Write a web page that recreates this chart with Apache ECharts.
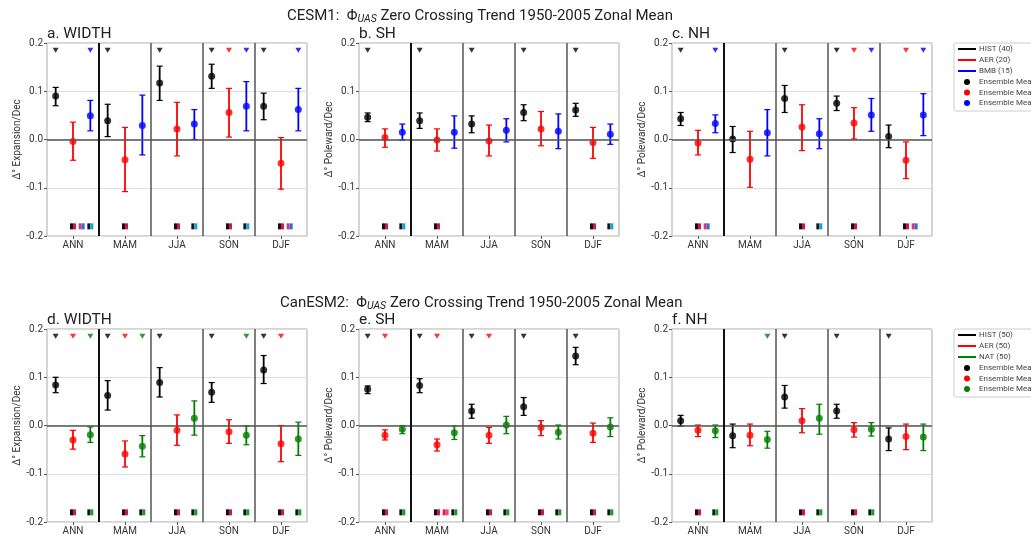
<!DOCTYPE html>
<html><head><meta charset="utf-8">
<script src="https://cdn.jsdelivr.net/npm/echarts@6/dist/echarts.min.js"></script>
<style>html,body{margin:0;padding:0;background:#fff}#c{width:1031px;height:537px}</style>
</head><body><div id="c"></div>
<script>
const seasons = ['ANN','MAM','JJA','SON','DJF'];
const yTicks = [-0.2, -0.1, 0.0, 0.1, 0.2];
const legendTop = ['HIST (40)','AER (20)','BMB (15)'];
const legendBottom = ['HIST (50)','AER (50)','NAT (50)'];
const meanLabel = 'Ensemble Mean';

// [mean, low, high] per season
const aHist = [[0.090,0.070,0.108],[0.039,0.006,0.073],[0.117,0.081,0.152],[0.131,0.106,0.156],[0.069,0.041,0.096]];
const aAer  = [[-0.004,-0.043,0.036],[-0.042,-0.108,0.025],[0.022,-0.034,0.077],[0.056,0.005,0.106],[-0.049,-0.103,0.004]];
const aBmb  = [[0.049,0.018,0.081],[0.029,-0.032,0.092],[0.032,0.000,0.062],[0.069,0.018,0.120],[0.062,0.018,0.106]];

const bHist = [[0.046,0.037,0.055],[0.039,0.023,0.055],[0.032,0.014,0.049],[0.056,0.039,0.072],[0.061,0.048,0.075]];
const bAer  = [[0.004,-0.016,0.022],[-0.001,-0.024,0.022],[-0.003,-0.034,0.030],[0.022,-0.013,0.058],[-0.006,-0.039,0.025]];
const bBmb  = [[0.015,-0.001,0.032],[0.015,-0.018,0.049],[0.019,-0.005,0.043],[0.017,-0.019,0.053],[0.011,-0.010,0.032]];

const cHist = [[0.043,0.029,0.056],[0.001,-0.027,0.027],[0.085,0.056,0.112],[0.075,0.060,0.090],[0.006,-0.017,0.030]];
const cAer  = [[-0.007,-0.032,0.019],[-0.041,-0.099,0.017],[0.026,-0.023,0.072],[0.034,0.001,0.066],[-0.043,-0.081,-0.005]];
const cBmb  = [[0.033,0.014,0.051],[0.014,-0.034,0.062],[0.012,-0.019,0.043],[0.051,0.017,0.085],[0.051,0.008,0.095]];

const dHist = [[0.084,0.068,0.100],[0.062,0.032,0.093],[0.089,0.059,0.120],[0.069,0.048,0.089],[0.115,0.087,0.145]];
const dAer  = [[-0.030,-0.049,-0.010],[-0.059,-0.086,-0.032],[-0.010,-0.041,0.022],[-0.013,-0.037,0.012],[-0.038,-0.075,0.000]];
const dNat  = [[-0.019,-0.035,-0.003],[-0.043,-0.065,-0.021],[0.015,-0.020,0.051],[-0.020,-0.040,-0.001],[-0.028,-0.062,0.007]];

const eHist = [[0.075,0.066,0.082],[0.083,0.068,0.097],[0.030,0.015,0.044],[0.039,0.021,0.058],[0.144,0.126,0.162]];
const eAer  = [[-0.020,-0.030,-0.009],[-0.040,-0.053,-0.028],[-0.020,-0.037,-0.004],[-0.004,-0.021,0.010],[-0.016,-0.035,0.005]];
const eNat  = [[-0.008,-0.017,0.000],[-0.015,-0.029,-0.001],[0.001,-0.017,0.019],[-0.014,-0.028,0.001],[-0.003,-0.023,0.016]];

const fHist = [[0.010,-0.001,0.021],[-0.021,-0.046,0.003],[0.059,0.036,0.083],[0.030,0.015,0.044],[-0.028,-0.052,-0.005]];
const fAer  = [[-0.010,-0.023,0.001],[-0.020,-0.042,0.003],[0.010,-0.015,0.035],[-0.009,-0.024,0.006],[-0.023,-0.050,0.003]];
const fNat  = [[-0.011,-0.025,0.001],[-0.029,-0.047,-0.012],[0.015,-0.018,0.044],[-0.008,-0.022,0.006],[-0.024,-0.052,0.003]];

// significance triangles: [season, member]  (0 HIST, 1 AER, 2 BMB/NAT)
const aTri = [[0,0],[0,2],[1,0],[2,0],[3,0],[3,1],[3,2],[4,0],[4,2]];
const bTri = [[0,0],[1,0],[2,0],[3,0],[4,0]];
const cTri = [[0,0],[0,2],[2,0],[3,0],[3,1],[3,2],[4,1],[4,2]];
const dTri = [[0,0],[0,1],[0,2],[1,0],[1,1],[1,2],[2,0],[3,0],[3,2],[4,0],[4,1]];
const eTri = [[0,0],[0,1],[1,0],[1,1],[2,0],[2,1],[3,0],[4,0]];
const fTri = [[1,2],[2,0],[3,0],[4,0]];

// difference squares: [season, pair]  (0 HIST-AER, 1 AER-third, 2 HIST-third)
const aSq = [[0,0],[0,1],[0,2],[1,0],[2,0],[2,2],[3,0],[3,2],[4,0],[4,1]];
const bSq = [[0,0],[0,2],[1,0],[4,0],[4,2]];
const cSq = [[0,0],[0,1],[2,0],[2,2],[3,0],[4,0],[4,1]];
const dSq = [[0,0],[0,2],[1,0],[1,2],[2,0],[2,2],[3,0],[3,2],[4,0],[4,2]];
const eSq = [[0,0],[0,2],[1,0],[1,1],[1,2],[2,0],[2,2],[3,0],[3,2],[4,0],[4,2]];
const fSq = [[0,0],[0,2],[2,0],[2,2],[3,0],[3,2]];

const FONT = 'Roboto';
const BLUE = '#0000ff', GREEN = '#008000', RED = '#ff0000', BLACK = '#000000';

const panels = [
  {title:'a. WIDTH', yName:'Δ° Expansion/Dec', d:[aHist,aAer,aBmb], tri:aTri, sq:aSq, third:BLUE, row:0, col:0},
  {title:'b. SH', yName:'Δ° Poleward/Dec', d:[bHist,bAer,bBmb], tri:bTri, sq:bSq, third:BLUE, row:0, col:1},
  {title:'c. NH', yName:'Δ° Poleward/Dec', d:[cHist,cAer,cBmb], tri:cTri, sq:cSq, third:BLUE, row:0, col:2},
  {title:'d. WIDTH', yName:'Δ° Expansion/Dec', d:[dHist,dAer,dNat], tri:dTri, sq:dSq, third:GREEN, row:1, col:0},
  {title:'e. SH', yName:'Δ° Poleward/Dec', d:[eHist,eAer,eNat], tri:eTri, sq:eSq, third:GREEN, row:1, col:1},
  {title:'f. NH', yName:'Δ° Poleward/Dec', d:[fHist,fAer,fNat], tri:fTri, sq:fSq, third:GREEN, row:1, col:2}
];

const lefts = [47, 359, 672], tops = [43, 329], W = 260, H = 193;
const grids = [], xAxes = [], yAxes = [], series = [], titles = [];

const mainRich = {
  a: {fontFamily: FONT, fontSize: 15, fontWeight: 'normal', color: '#222'},
  s: {fontFamily: FONT, fontSize: 10.5, fontStyle: 'italic', fontWeight: 'normal', color: '#222', padding: [7, 0, 0, 0]}
};
titles.push({text: '{a|CESM1:  Φ}{s|UAS}{a| Zero Crossing Trend 1950-2005 Zonal Mean}', left: 287, top: 7, padding: 0,
  textStyle: {fontWeight: 'normal', rich: mainRich}});
titles.push({text: '{a|CanESM2:  Φ}{s|UAS}{a| Zero Crossing Trend 1950-2005 Zonal Mean}', left: 280, top: 294, padding: 0,
  textStyle: {fontWeight: 'normal', rich: mainRich}});

panels.forEach((p, k) => {
  const L = lefts[p.col], T = tops[p.row];
  const colors = [BLACK, RED, p.third];
  grids.push({left: L, top: T, width: W, height: H, show: true, borderColor: '#aaa', borderWidth: 1, backgroundColor: 'transparent'});
  titles.push({text: p.title, left: L, top: T - 17, padding: 0, textStyle: {fontFamily: FONT, fontSize: 15.5, fontWeight: 'normal', color: '#222'}});
  xAxes.push({type: 'value', gridIndex: k, min: 0, max: 15, show: false});
  xAxes.push({type: 'category', gridIndex: k, data: seasons, position: 'bottom', boundaryGap: true,
    axisLine: {show: false}, axisTick: {show: true, alignWithLabel: true, length: 3, lineStyle: {color: '#555'}},
    axisLabel: {fontFamily: FONT, fontSize: 10, color: '#333', margin: 4}, splitLine: {show: false}});
  yAxes.push({type: 'value', gridIndex: k, min: yTicks[0], max: yTicks[yTicks.length-1], interval: 0.1,
    name: p.yName, nameLocation: 'middle', nameGap: 22, nameTextStyle: {fontFamily: FONT, fontSize: 10, color: '#333'},
    axisLine: {show: false}, axisTick: {show: true, length: 3, lineStyle: {color: '#555'}},
    axisLabel: {fontFamily: FONT, fontSize: 10, color: '#333', margin: 4, formatter: v => v.toFixed(1)},
    splitLine: {show: true, lineStyle: {color: '#ddd', width: 1}}});
  const xi = k * 2, yi = k;
  series.push({type: 'line', xAxisIndex: xi, yAxisIndex: yi, data: [], silent: true,
    markLine: {silent: true, symbol: ['none','none'], label: {show: false}, animation: false,
      data: [
        {yAxis: 0, lineStyle: {color: '#555', width: 1.5, type: 'solid'}},
        {xAxis: 3, lineStyle: {color: '#111', width: 2, type: 'solid'}},
        {xAxis: 6, lineStyle: {color: '#555', width: 1.5, type: 'solid'}},
        {xAxis: 9, lineStyle: {color: '#555', width: 1.5, type: 'solid'}},
        {xAxis: 12, lineStyle: {color: '#555', width: 1.5, type: 'solid'}}
      ]}});
  p.d.forEach((arr, m) => {
    const col = colors[m];
    const data = arr.map((v, i) => [i * 3 + m + 0.5, v[0], v[1], v[2]]);
    series.push({type: 'custom', xAxisIndex: xi, yAxisIndex: yi, data: data, z: 3, silent: true,
      encode: {x: 0, y: [1, 2, 3]},
      renderItem: (params, api) => {
        const x = api.value(0);
        const p1 = api.coord([x, api.value(2)]), p2 = api.coord([x, api.value(3)]);
        return {type: 'group', children: [
          {type: 'line', shape: {x1: p1[0], y1: p1[1], x2: p2[0], y2: p2[1]}, style: {stroke: col, lineWidth: 1.8}},
          {type: 'line', shape: {x1: p1[0]-3, y1: p1[1], x2: p1[0]+3, y2: p1[1]}, style: {stroke: col, lineWidth: 1.2}},
          {type: 'line', shape: {x1: p2[0]-3, y1: p2[1], x2: p2[0]+3, y2: p2[1]}, style: {stroke: col, lineWidth: 1.2}}
        ]};
      }});
    series.push({type: 'scatter', xAxisIndex: xi, yAxisIndex: yi, symbol: 'circle', symbolSize: 7, z: 4, silent: true,
      itemStyle: {color: col}, data: data.map(d => [d[0], d[1]])});
  });
  series.push({type: 'scatter', xAxisIndex: xi, yAxisIndex: yi, symbol: 'triangle', symbolRotate: 180, symbolSize: [6, 5], z: 4, silent: true,
    data: p.tri.map(t => ({value: [t[0] * 3 + t[1] + 0.5, 0.185], itemStyle: {color: colors[t[1]]}}))});
  const pairPos = [1.5, 2.0, 2.5];
  const pairCols = p.third === BLUE
    ? [['#1a0a10', '#d0154f'], ['#e0307f', '#2a70d8'], ['#101820', '#1f9fd8']]
    : [['#1a0a10', '#d0154f'], ['#e0203a', '#e8507a'], ['#0c1a0c', '#1f9a2a']];
  series.push({type: 'custom', xAxisIndex: xi, yAxisIndex: yi, z: 4, silent: true,
    data: p.sq.map(s => [s[0] * 3 + pairPos[s[1]], -0.18, s[1]]),
    encode: {x: 0, y: 1},
    renderItem: (params, api) => {
      const c = api.coord([api.value(0), api.value(1)]);
      const pc = pairCols[api.value(2)];
      return {type: 'group', children: [
        {type: 'rect', shape: {x: c[0] - 3, y: c[1] - 3, width: 3, height: 6}, style: {fill: pc[0]}},
        {type: 'rect', shape: {x: c[0], y: c[1] - 3, width: 3, height: 6}, style: {fill: pc[1]}}
      ]};
    }});
});

function legendGroup(top, labels, third) {
  const cols = [BLACK, RED, third];
  const children = [{type: 'rect', shape: {x: 0, y: 0, width: 110, height: 68, r: 2}, style: {fill: '#fff', stroke: '#ccc', lineWidth: 1}}];
  const rowY = [6, 17, 28, 39, 49.5, 60];
  labels.forEach((lab, i) => {
    children.push({type: 'line', shape: {x1: 4, y1: rowY[i], x2: 22, y2: rowY[i]}, style: {stroke: cols[i], lineWidth: 2}});
    children.push({type: 'text', x: 25, y: rowY[i], style: {text: lab, fontFamily: FONT, fontSize: 8, fill: '#444', verticalAlign: 'middle'}});
  });
  cols.forEach((c, i) => {
    children.push({type: 'circle', shape: {cx: 13, cy: rowY[i + 3], r: 3}, style: {fill: c}});
    children.push({type: 'text', x: 25, y: rowY[i + 3], style: {text: meanLabel, fontFamily: FONT, fontSize: 8, fill: '#444', verticalAlign: 'middle'}});
  });
  return {type: 'group', x: 954, y: top, children: children};
}

const chart = echarts.init(document.getElementById('c'), null, {renderer: 'canvas'});
chart.setOption({
  animation: false,
  backgroundColor: '#fff',
  title: titles,
  grid: grids,
  xAxis: xAxes,
  yAxis: yAxes,
  series: series,
  graphic: [legendGroup(43, legendTop, BLUE), legendGroup(329, legendBottom, GREEN)]
});
</script></body></html>
